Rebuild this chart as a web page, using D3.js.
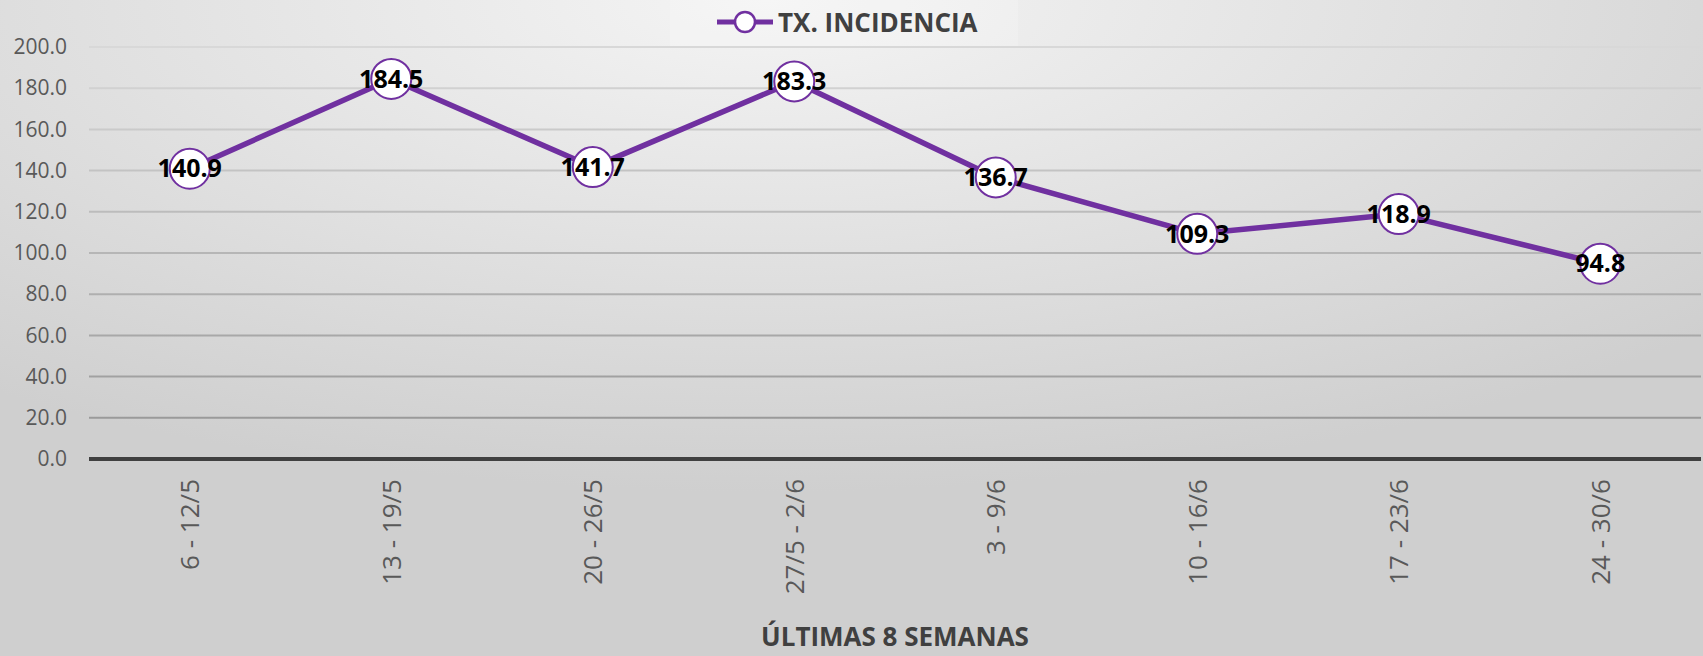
<!DOCTYPE html>
<html>
<head>
<meta charset="utf-8">
<script src="https://cdn.jsdelivr.net/npm/d3@7"></script>
<style>
  html, body { margin: 0; padding: 0; overflow: hidden; }
  svg { display: block; }
</style>
</head>
<body>
<div id="chart"></div>
<script>
// Weekly incidence rate, last 8 weeks
const categories = ["6 - 12/5", "13 - 19/5", "20 - 26/5", "27/5 - 2/6", "3 - 9/6", "10 - 16/6", "17 - 23/6", "24 - 30/6"];
const values = [140.9, 184.5, 141.7, 183.3, 136.7, 109.3, 118.9, 94.8];
const yTicks = [0, 20, 40, 60, 80, 100, 120, 140, 160, 180, 200];
const seriesName = "TX. INCIDENCIA";
const xTitle = "ÚLTIMAS 8 SEMANAS";

const width = 1703, height = 656;
const margin = {top: 47, right: 2, bottom: 197, left: 89};
const purple = "#7030a0";
const font = "'Open Sans', sans-serif";

const svg = d3.select("#chart").append("svg")
    .attr("width", width)
    .attr("height", height);

// background gradient
const defs = svg.append("defs");
const grad = defs.append("radialGradient")
    .attr("id", "bg")
    .attr("cx", "45%").attr("cy", "0%")
    .attr("r", "75%");
grad.append("stop").attr("offset", "0%").attr("stop-color", "#f4f4f4");
grad.append("stop").attr("offset", "100%").attr("stop-color", "#cfcfcf");

svg.append("rect")
    .attr("width", width)
    .attr("height", height)
    .attr("fill", "url(#bg)");

const x = d3.scalePoint()
    .domain(categories)
    .range([margin.left, width - margin.right])
    .padding(0.5);

const y = d3.scaleLinear()
    .domain([0, 200])
    .range([height - margin.bottom, margin.top]);

const gridColor = d3.scaleLinear()
    .domain([200, 20])
    .range(["#d8d8d8", "#9a9a9a"]);

// gridlines
svg.append("g")
  .selectAll("line")
  .data(yTicks.filter(d => d > 0))
  .join("line")
    .attr("x1", margin.left)
    .attr("x2", width - margin.right)
    .attr("y1", d => y(d))
    .attr("y2", d => y(d))
    .attr("stroke", d => gridColor(d))
    .attr("stroke-width", 2);

// y axis labels
const yAxis = svg.append("g")
    .attr("transform", `translate(${margin.left},0)`)
    .call(d3.axisLeft(y).tickValues(yTicks).tickFormat(d3.format(".1f")).tickSize(0).tickPadding(22));
yAxis.select(".domain").remove();
yAxis.selectAll("text")
    .attr("font-family", font)
    .attr("font-size", 21)
    .attr("fill", "#595959");

// baseline
svg.append("line")
    .attr("x1", margin.left)
    .attr("x2", width - margin.right)
    .attr("y1", y(0))
    .attr("y2", y(0))
    .attr("stroke", "#404040")
    .attr("stroke-width", 4);

// x axis labels (rotated)
const xAxis = svg.append("g")
    .attr("transform", `translate(0,${y(0)})`)
    .call(d3.axisBottom(x).tickSize(0).tickPadding(0));
xAxis.select(".domain").remove();
xAxis.selectAll("text")
    .attr("font-family", font)
    .attr("font-size", 26)
    .attr("fill", "#595959")
    .attr("text-anchor", "end")
    .attr("transform", "rotate(-90)")
    .attr("x", -20)
    .attr("y", 0)
    .attr("dy", "0.35em");

// line
const line = d3.line()
    .x((d, i) => x(categories[i]))
    .y(d => y(d));

svg.append("path")
    .datum(values)
    .attr("fill", "none")
    .attr("stroke", purple)
    .attr("stroke-width", 5.5)
    .attr("stroke-linejoin", "round")
    .attr("d", line);

// markers
svg.append("g")
  .selectAll("circle")
  .data(values)
  .join("circle")
    .attr("cx", (d, i) => x(categories[i]))
    .attr("cy", d => y(d))
    .attr("r", 20)
    .attr("fill", "#ffffff")
    .attr("stroke", purple)
    .attr("stroke-width", 2);

// data labels
svg.append("g")
  .selectAll("text")
  .data(values)
  .join("text")
    .attr("x", (d, i) => x(categories[i]))
    .attr("y", d => y(d))
    .attr("dy", "0.35em")
    .attr("text-anchor", "middle")
    .attr("font-family", font)
    .attr("font-weight", "bold")
    .attr("font-size", 25)
    .attr("fill", "#000")
    .text(d => d3.format(".1f")(d));

// legend
const legend = svg.append("g");
legend.append("rect")
    .attr("x", 670).attr("y", 0)
    .attr("width", 348).attr("height", 46)
    .attr("fill", "#ffffff")
    .attr("fill-opacity", 0.2);
legend.append("line")
    .attr("x1", 717).attr("x2", 773)
    .attr("y1", 22).attr("y2", 22)
    .attr("stroke", purple)
    .attr("stroke-width", 5);
legend.append("circle")
    .attr("cx", 745).attr("cy", 22)
    .attr("r", 10)
    .attr("fill", "#fff")
    .attr("stroke", purple)
    .attr("stroke-width", 2.5);
legend.append("text")
    .attr("x", 778).attr("y", 32)
    .attr("font-family", font)
    .attr("font-weight", "bold")
    .attr("font-size", 26)
    .attr("fill", "#404040")
    .text(seriesName);

// x title
svg.append("text")
    .attr("x", (margin.left + width - margin.right) / 2)
    .attr("y", 646)
    .attr("text-anchor", "middle")
    .attr("font-family", font)
    .attr("font-weight", "bold")
    .attr("font-size", 26)
    .attr("fill", "#404040")
    .text(xTitle);
</script>
</body>
</html>
